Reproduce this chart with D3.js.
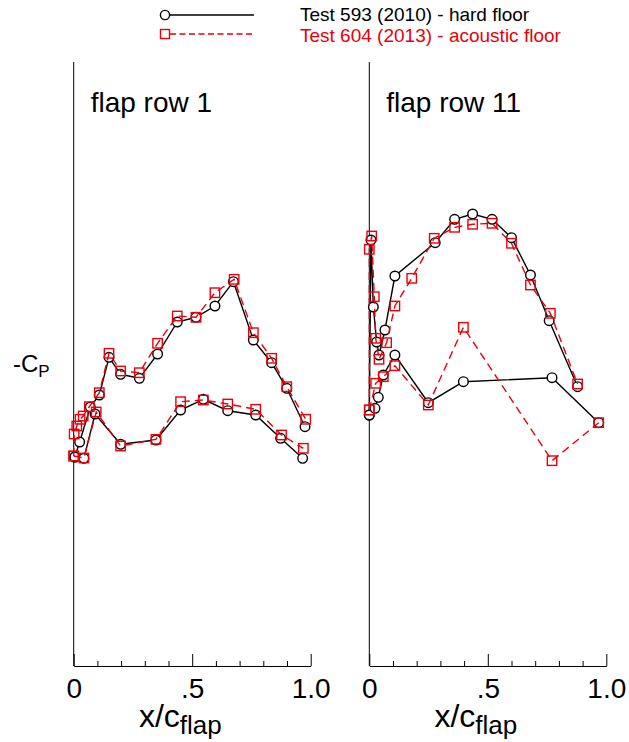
<!DOCTYPE html>
<html>
<head>
<meta charset="utf-8">
<script src="https://cdn.jsdelivr.net/npm/d3@7"></script>
<style>
  html, body { margin: 0; padding: 0; background: #fff; }
  svg { display: block; font-family: "Liberation Sans", Arial, Helvetica, sans-serif; }
</style>
</head>
<body>
<svg id="chart" width="629" height="742"></svg>
<script>
// ---------------- data ----------------
const legendLabels = ["Test 593 (2010) - hard floor", "Test 604 (2013) - acoustic floor"];
const panelTitles = ["flap row 1", "flap row 11"];
const xTickValues = [0, 0.5, 1.0];
const xTickLabels = ["0", ".5", "1.0"];
const xMinorTicks = [0.1, 0.2, 0.3, 0.4, 0.6, 0.7, 0.8, 0.9];

// flap row 1 — hard floor (Test 593)
const r1HardUpperX  = [0.005, 0.025, 0.07, 0.108, 0.149, 0.198, 0.277, 0.354, 0.437, 0.516, 0.596, 0.674, 0.758, 0.835, 0.899, 0.976];
const r1HardUpperCp = [0.09, 0.24, 0.59, 0.71, 1.087, 0.917, 0.877, 1.12, 1.44, 1.487, 1.60, 1.843, 1.26, 1.033, 0.777, 0.393];
const r1HardLowerX  = [0.005, 0.043, 0.090, 0.198, 0.347, 0.451, 0.547, 0.650, 0.768, 0.873, 0.966];
const r1HardLowerCp = [0.09, 0.077, 0.52, 0.217, 0.26, 0.56, 0.667, 0.553, 0.51, 0.277, 0.077];
// flap row 1 — acoustic floor (Test 604)
const r1AcouUpperX  = [0.0, 0.002, 0.013, 0.027, 0.040, 0.066, 0.108, 0.149, 0.198, 0.277, 0.354, 0.437, 0.516, 0.596, 0.677, 0.758, 0.835, 0.899, 0.979];
const r1AcouUpperCp = [0.10, 0.32, 0.40, 0.467, 0.50, 0.593, 0.733, 1.127, 0.95, 0.933, 1.227, 1.50, 1.487, 1.733, 1.867, 1.333, 1.077, 0.793, 0.467];
const r1AcouLowerX  = [0.0, 0.043, 0.095, 0.198, 0.347, 0.451, 0.547, 0.650, 0.768, 0.877, 0.969];
const r1AcouLowerCp = [0.10, 0.08, 0.54, 0.20, 0.267, 0.643, 0.66, 0.62, 0.567, 0.31, 0.177];

// flap row 11 — hard floor (Test 593)
const r11HardUpperX  = [0.0, 0.007, 0.017, 0.031, 0.041, 0.066, 0.108, 0.278, 0.360, 0.436, 0.518, 0.600, 0.680, 0.759, 0.879];
const r11HardUpperCp = [0.51, 2.26, 1.59, 1.24, 1.11, 1.36, 1.90, 2.233, 2.467, 2.52, 2.467, 2.283, 1.91, 1.453, 0.793];
const r11HardLowerX  = [0.0, 0.024, 0.038, 0.059, 0.108, 0.249, 0.397, 0.771, 0.968];
const r11HardLowerCp = [0.51, 0.577, 0.687, 0.91, 1.11, 0.633, 0.843, 0.883, 0.433];
// flap row 11 — acoustic floor (Test 604)
const r11AcouUpperX  = [0.0, 0.0, 0.010, 0.021, 0.027, 0.041, 0.073, 0.108, 0.179, 0.274, 0.360, 0.436, 0.518, 0.600, 0.680, 0.764, 0.879];
const r11AcouUpperCp = [0.56, 2.167, 2.30, 1.693, 1.277, 1.067, 1.233, 1.60, 1.877, 2.277, 2.387, 2.417, 2.427, 2.227, 1.81, 1.527, 0.82];
const r11AcouLowerX  = [0.0, 0.027, 0.059, 0.108, 0.249, 0.397, 0.771, 0.968];
const r11AcouLowerCp = [0.56, 0.827, 0.893, 1.003, 0.61, 1.387, 0.053, 0.433];

// ---------------- drawing ----------------
const svg = d3.select("#chart");
const BLACK = "#000000", RED = "#e8000b";
const FONT = '"Liberation Sans", Arial, Helvetica, sans-serif';

const zip = (xs, ys) => xs.map((x, i) => ({x: x, y: ys[i]}));

const panels = [
  { title: panelTitles[0], x0: 73.7, x1: 310.7,
    hard: [zip(r1HardUpperX, r1HardUpperCp), zip(r1HardLowerX, r1HardLowerCp)],
    acou: [zip(r1AcouUpperX, r1AcouUpperCp), zip(r1AcouLowerX, r1AcouLowerCp)] },
  { title: panelTitles[1], x0: 369.3, x1: 606.3,
    hard: [zip(r11HardUpperX, r11HardUpperCp), zip(r11HardLowerX, r11HardLowerCp)],
    acou: [zip(r11AcouUpperX, r11AcouUpperCp), zip(r11AcouLowerX, r11AcouLowerCp)] }
];

const yScale = d3.scaleLinear().domain([-2, 4.04]).range([666, 62]);

panels.forEach(p => {
  const x = d3.scaleLinear().domain([0, 1]).range([p.x0, p.x1]);
  const g = svg.append("g");

  // vertical axis line
  g.append("line").attr("x1", x(0)).attr("x2", x(0))
    .attr("y1", yScale.range()[1]).attr("y2", yScale.range()[0])
    .attr("stroke", "#000").attr("stroke-width", 1);

  // bottom axis
  const axis = d3.axisBottom(x).tickValues(xTickValues)
    .tickFormat((d, i) => xTickLabels[i]).tickSizeInner(-12).tickSizeOuter(0).tickPadding(18);
  const ag = g.append("g").attr("transform", `translate(0,${yScale(-2)})`).call(axis);
  ag.select(".domain").attr("stroke", "#000").attr("stroke-width", 1);
  ag.selectAll(".tick line").attr("stroke", "#000").attr("stroke-width", 1);
  ag.selectAll(".tick text").attr("font-size", 28).attr("font-family", FONT).attr("fill", "#000")
    .attr("dy", null).attr("y", 32);
  const minor = d3.axisBottom(x).tickValues(xMinorTicks).tickFormat("").tickSizeInner(-5).tickSizeOuter(0);
  const mg = g.append("g").attr("transform", `translate(0,${yScale(-2)})`).call(minor);
  mg.select(".domain").remove();
  mg.selectAll(".tick line").attr("stroke", "#000").attr("stroke-width", 1);

  // axis title x/c_flap
  const t = g.append("text").attr("x", x(0.275)).attr("y", 727)
    .attr("font-family", FONT).attr("font-size", 32).attr("fill", "#000");
  t.append("tspan").text("x/c");
  t.append("tspan").attr("font-size", 26).attr("dy", 7).text("flap");

  // panel title
  g.append("text").attr("x", x(0) + 17).attr("y", 112)
    .attr("font-family", FONT).attr("font-size", 28).attr("fill", "#000").text(p.title);

  const line = d3.line().x(d => x(d.x)).y(d => yScale(d.y));

  // hard floor series (black, solid, circles)
  p.hard.forEach(s => {
    g.append("path").datum(s).attr("d", line).attr("fill", "none")
      .attr("stroke", BLACK).attr("stroke-width", 1.4);
  });
  p.hard.forEach(s => {
    g.selectAll(null).data(s).enter().append("circle")
      .attr("cx", d => x(d.x)).attr("cy", d => yScale(d.y)).attr("r", 4.8)
      .attr("fill", "#fff").attr("stroke", BLACK).attr("stroke-width", 1.4);
  });
  // acoustic floor series (red, dashed, squares)
  p.acou.forEach(s => {
    g.append("path").datum(s).attr("d", line).attr("fill", "none")
      .attr("stroke", RED).attr("stroke-width", 1.4).attr("stroke-dasharray", "8,5");
  });
  p.acou.forEach(s => {
    g.selectAll(null).data(s).enter().append("rect")
      .attr("x", d => x(d.x) - 4.7).attr("y", d => yScale(d.y) - 4.7)
      .attr("width", 9.4).attr("height", 9.4)
      .attr("fill", "none").attr("stroke", RED).attr("stroke-width", 1.4);
  });
});

// y axis label -C_P
const yl = svg.append("text").attr("x", 13).attr("y", 372)
  .attr("font-family", FONT).attr("font-size", 24).attr("fill", "#000");
yl.append("tspan").text("-C");
yl.append("tspan").attr("font-size", 17).attr("dy", 5).text("P");

// legend
const leg = svg.append("g");
leg.append("line").attr("x1", 165).attr("x2", 254).attr("y1", 15).attr("y2", 15)
  .attr("stroke", BLACK).attr("stroke-width", 1.4);
leg.append("circle").attr("cx", 165).attr("cy", 15).attr("r", 4.6)
  .attr("fill", "#fff").attr("stroke", BLACK).attr("stroke-width", 1.4);
leg.append("line").attr("x1", 170).attr("x2", 254).attr("y1", 34).attr("y2", 34)
  .attr("stroke", RED).attr("stroke-width", 1.4).attr("stroke-dasharray", "6,3.5");
leg.append("rect").attr("x", 160.5).attr("y", 29.5).attr("width", 9).attr("height", 9)
  .attr("fill", "#fff").attr("stroke", RED).attr("stroke-width", 1.4);
leg.append("text").attr("x", 300).attr("y", 21).attr("font-family", FONT)
  .attr("font-size", 19).attr("fill", BLACK).text(legendLabels[0]);
leg.append("text").attr("x", 300).attr("y", 42).attr("font-family", FONT)
  .attr("font-size", 19).attr("fill", RED).text(legendLabels[1]);
</script>
</body>
</html>
